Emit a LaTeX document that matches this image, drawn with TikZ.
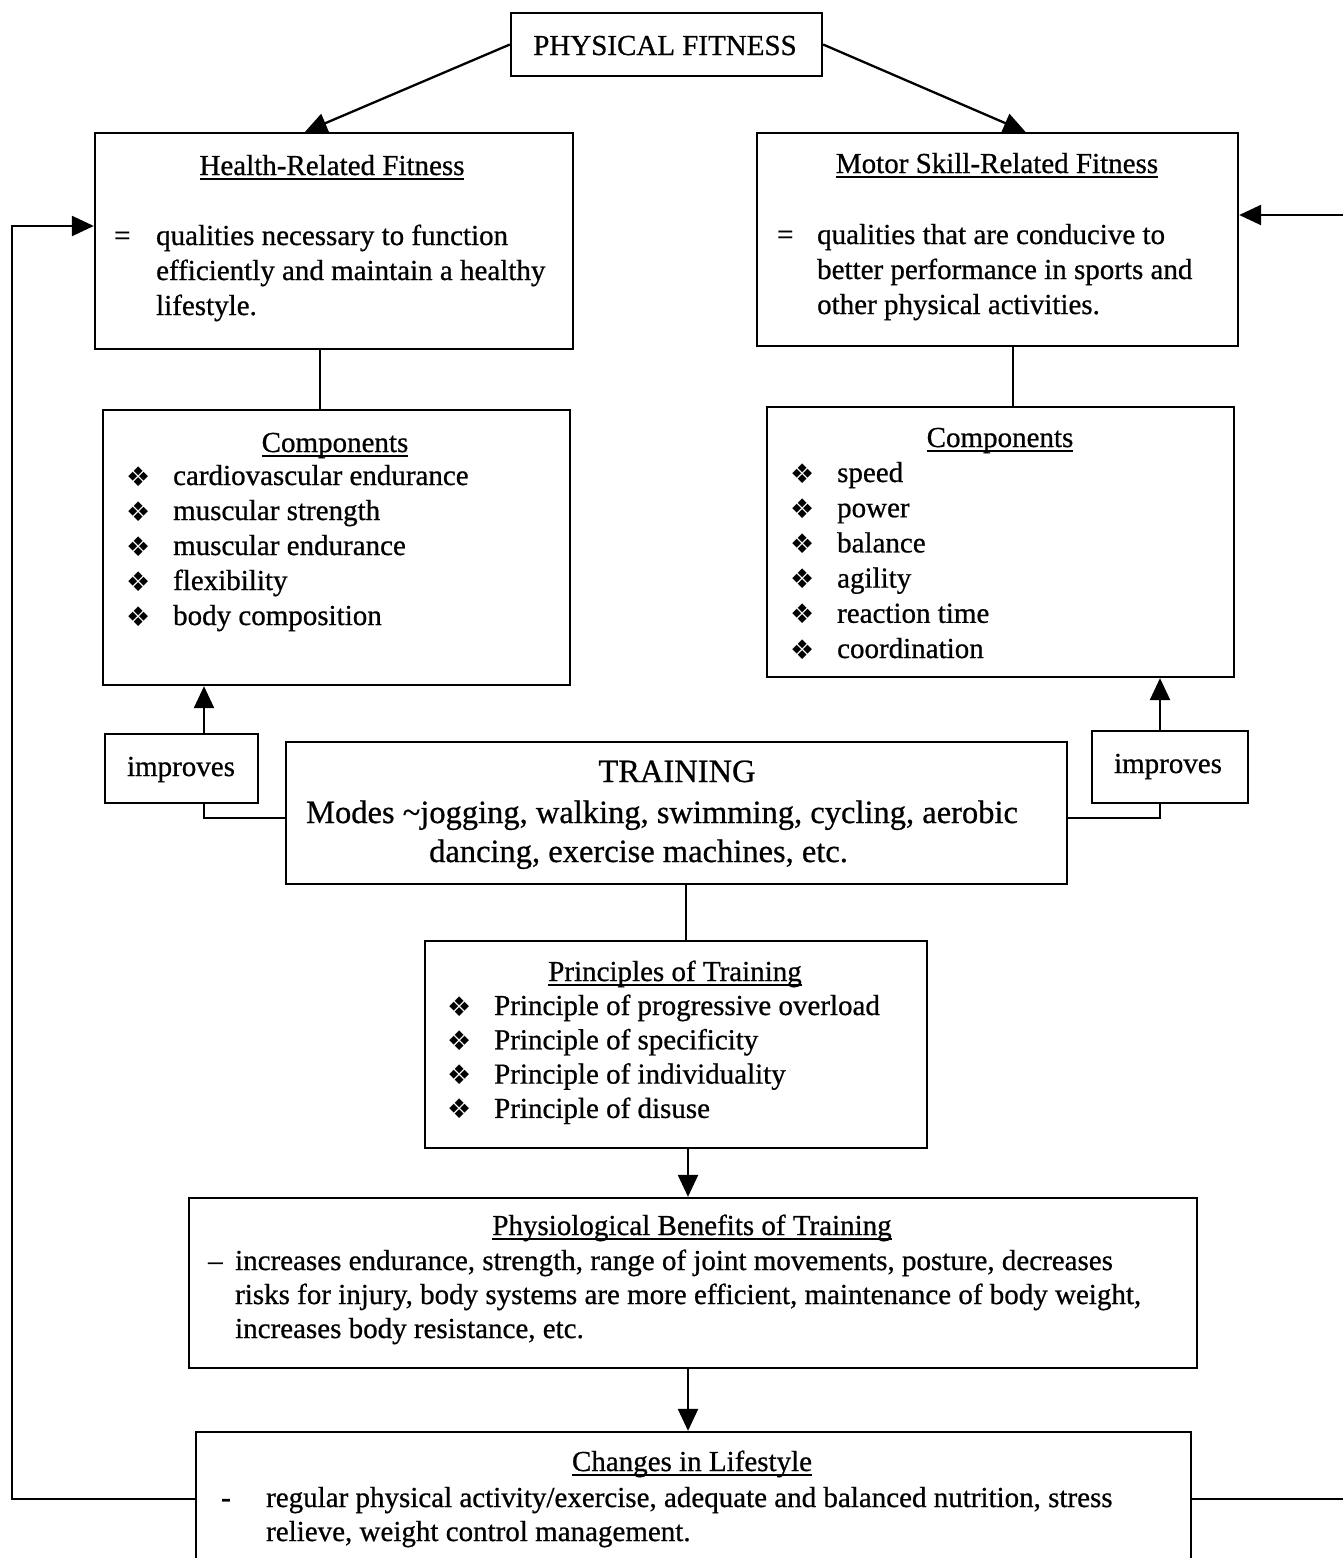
\documentclass[tikz,border=0pt]{standalone}
\usepackage{fontspec}
\setmainfont{Liberation Serif}[UprightFeatures={FakeBold=0.7}]
\newfontfamily\dingfont{DejaVu Sans}
\usetikzlibrary{arrows.meta,fit}

\newcommand{\bull}{{\dingfont\fontsize{27}{27}\selectfont ❖}}
\newcommand{\undertitle}[1]{\sbox0{#1}\rlap{\rule[-5pt]{\wd0}{1.6pt}}\usebox0}

\begin{document}
\begin{tikzpicture}[x=1pt, y=-1pt, line width=2.3pt,
  font=\fontsize{29}{35}\selectfont,
  panel/.style={draw, inner sep=0pt},
  txt/.style={anchor=base west, inner sep=0pt},
  ttl/.style={anchor=base, inner sep=0pt},
  big/.style={font=\fontsize{32.5}{38}\selectfont},
  arr/.style={-{Triangle[length=22pt,width=20pt]}}]
\useasboundingbox (0,0) rectangle (1343,1558);
\clip (0,0) rectangle (1343,1558);

% boxes
\node[panel, fit={(511,13) (822,76)}] (pf) {};
\node[panel, fit={(95,133) (573,349)}] (hrf) {};
\node[panel, fit={(757,133) (1238,346)}] (msf) {};
\node[panel, fit={(103,410) (570,685)}] (hcomp) {};
\node[panel, fit={(767,407) (1234,677)}] (mcomp) {};
\node[panel, fit={(105,734) (258,803)}] (impL) {};
\node[panel, fit={(1092,731) (1248,803)}] (impR) {};
\node[panel, fit={(286,742) (1067,884)}] (train) {};
\node[panel, fit={(425,941) (927,1148)}] (princ) {};
\node[panel, fit={(189,1198) (1197,1368)}] (phys) {};
\node[panel, fit={(196,1432) (1191,1566)}] (life) {};

% top
\node[ttl] (pfT) at (665,55) {PHYSICAL FITNESS};

% health-related
\node[ttl] (hrfT) at (332,175) {\undertitle{Health-Related Fitness}};
\node[txt] (hrfEq) at (113,245) {=};
\foreach \ln [count=\i from 0] in {qualities necessary to function,
    efficiently and maintain a healthy, lifestyle.}
  \node[txt] (hrf\i) at (155,245+35*\i) {\ln};

% motor skill-related
\node[ttl] (msfT) at (997,173) {\undertitle{Motor Skill-Related Fitness}};
\node[txt] (msfEq) at (776,244) {=};
\foreach \ln [count=\i from 0] in {qualities that are conducive to,
    better performance in sports and, other physical activities.}
  \node[txt] (msf\i) at (816,244+35*\i) {\ln};

% components
\node[ttl] (hcompT) at (335,452) {\undertitle{Components}};
\foreach \ln [count=\i from 0] in {cardiovascular endurance, muscular strength,
    muscular endurance, flexibility, body composition} {
  \node[txt] (hb\i) at (125,486+35*\i) {\bull};
  \node[txt] (hc\i) at (172,485+35*\i) {\ln};
}
\node[ttl] (mcompT) at (1000,447) {\undertitle{Components}};
\foreach \ln [count=\i from 0] in {speed, power, balance, agility,
    reaction time, coordination} {
  \node[txt] (mb\i) at (789,483+35.2*\i) {\bull};
  \node[txt] (mc\i) at (836,482+35.2*\i) {\ln};
}

% improves
\node[ttl] (impLT) at (181,776) {improves};
\node[ttl] (impRT) at (1168,773) {improves};

% training
\node[ttl,big] (trainT) at (677,782) {TRAINING};
\node[txt,big] (train1) at (305,823) {Modes \textasciitilde jogging, walking, swimming, cycling, aerobic};
\node[txt,big] (train2) at (428,862) {dancing, exercise machines, etc.};

% principles
\node[ttl] (princT) at (675,981) {\undertitle{Principles of Training}};
\foreach \ln [count=\i from 0] in {Principle of progressive overload,
    Principle of specificity, Principle of individuality, Principle of disuse} {
  \node[txt] (pb\i) at (446,1016+34.3*\i) {\bull};
  \node[txt] (pc\i) at (493,1015+34.3*\i) {\ln};
}

% benefits
\node[ttl] (physT) at (692,1235) {\undertitle{Physiological Benefits of Training}};
\node[txt] (physD) at (207,1270) {\textendash};
\foreach \ln [count=\i from 0] in
    {{increases endurance, strength, range of joint movements, posture, decreases},
     {risks for injury, body systems are more efficient, maintenance of body weight,},
     {increases body resistance, etc.}}
  \node[txt] (phys\i) at (234,1270+34*\i) {\ln};

% lifestyle
\node[ttl] (lifeT) at (692,1471) {\undertitle{Changes in Lifestyle}};
\node[txt] (lifeD) at (220,1507) {-};
\foreach \ln [count=\i from 0] in
    {{regular physical activity/exercise, adequate and balanced nutrition, stress},
     {relieve, weight control management.}}
  \node[txt] (life\i) at (265,1507+34*\i) {\ln};

% columns and rails
\coordinate (cA) at (320,0);
\coordinate (cB) at (1013,0);
\coordinate (cC) at (204,0);
\coordinate (cD) at (1160,0);
\coordinate (cE) at (686,0);
\coordinate (cF) at (688,0);
\coordinate (lrail) at (12,0);
\coordinate (rrail) at (1365,0);

% connectors
\draw[arr] (pf.west) -- ([xshift=-29pt]hrf.north);
\draw[arr] (pf.east) -- ([xshift=28pt]msf.north);
\draw (hrf.south -| cA) -- (hcomp.north -| cA);
\draw (msf.south -| cB) -- (mcomp.north -| cB);
\draw[arr] (impL.north -| cC) -- (hcomp.south -| cC);
\draw[arr] (impR.north -| cD) -- (mcomp.south -| cD);
\draw ([yshift=-5pt]train.west) -| (impL.south -| cC);
\draw ([yshift=-5pt]train.east) -| (impR.south -| cD);
\draw (train.south -| cE) -- (princ.north -| cE);
\draw[arr] (princ.south -| cF) -- (phys.north -| cF);
\draw[arr] (phys.south -| cF) -- (life.north -| cF);
\draw[arr] (life.west) -- (life.west -| lrail) |- ([yshift=15pt]hrf.west);
\draw[arr] (life.east) -- (life.east -| rrail) |- ([yshift=24.5pt]msf.east);
\end{tikzpicture}
\end{document}
